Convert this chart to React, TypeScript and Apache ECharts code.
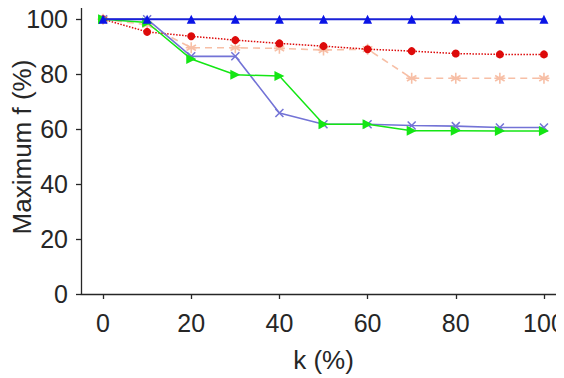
import React, { useEffect, useRef } from "react";
import * as echarts from "echarts";

const kValues = [0, 10, 20, 30, 40, 50, 60, 70, 80, 90, 100];
const blueTri = [100, 100, 100, 100, 100, 100, 100, 100, 100, 100, 100];
const redDot = [100, 95.4, 93.8, 92.4, 91.2, 90.2, 89.1, 88.4, 87.5, 87.2, 87.2];
const salmonStar = [100, 98, 89.6, 89.6, 89.4, 88.8, 89.1, 78.5, 78.5, 78.5, 78.5];
const purpleX = [100, 100, 86.5, 86.5, 65.9, 61.8, 61.8, 61.3, 61.1, 60.6, 60.6];
const greenTri = [100, 98.8, 85.5, 79.8, 79.3, 61.8, 61.8, 59.4, 59.4, 59.3, 59.3];
const xTicks = [0, 20, 40, 60, 80, 100];
const yTicks = [0, 20, 40, 60, 80, 100];

const pairs = (ys: number[]) => kValues.map((k, i) => [k, ys[i]]);

const FONT = "Liberation Sans";

export default function App() {
  const ref = useRef<HTMLDivElement>(null);
  useEffect(() => {
    if (!ref.current) return;
    const chart = echarts.init(ref.current, null, { renderer: "svg" });
    const axisColor = "#262626";
    chart.setOption({
      animation: false,
      grid: { left: 81, right: -2, top: 0, bottom: 84, outerBoundsMode: "none", containLabel: false },
      xAxis: {
        type: "value",
        min: -5,
        max: 105,
        interval: 5,
        name: "k (%)",
        nameLocation: "middle",
        nameGap: 53,
        nameMoveOverlap: false,
        nameTextStyle: { fontFamily: FONT, fontSize: 26, color: axisColor },
        axisLine: { show: true, onZero: false, lineStyle: { color: axisColor, width: 1.3 } },
        axisTick: {
          show: true,
          inside: false,
          length: 5,
          customValues: xTicks,
          lineStyle: { color: axisColor, width: 1.3 },
        },
        axisLabel: {
          customValues: xTicks,
          fontFamily: FONT,
          fontSize: 25,
          color: axisColor,
          margin: 16,
        },
        splitLine: { show: false },
      },
      yAxis: {
        type: "value",
        min: 0,
        max: 107,
        name: "Maximum f (%)",
        nameLocation: "middle",
        nameGap: 46,
        nameMoveOverlap: false,
        nameTextStyle: { fontFamily: FONT, fontSize: 26, color: axisColor },
        axisLine: { show: true, onZero: false, lineStyle: { color: axisColor, width: 1.3 } },
        axisTick: {
          show: true,
          length: 5,
          customValues: yTicks,
          lineStyle: { color: axisColor, width: 1.3 },
        },
        axisLabel: {
          customValues: yTicks,
          fontFamily: FONT,
          fontSize: 25,
          color: axisColor,
          margin: 13,
        },
        splitLine: { show: false },
      },
      series: [
        {
          type: "line",
          data: pairs(salmonStar),
          symbol: "path://M5,0L5,10M0.7,2.5L9.3,7.5M0.7,7.5L9.3,2.5M0,5L10,5",
          symbolSize: 11,
          itemStyle: { color: "rgba(0,0,0,0)", borderColor: "#f7bfa6", borderWidth: 1.6 },
          lineStyle: { color: "#f7bfa6", width: 1.6, type: [7, 5] },
          z: 2,
        },
        {
          type: "line",
          data: pairs(redDot),
          symbol: "circle",
          symbolSize: 8,
          itemStyle: { color: "#dd0a0a", borderWidth: 0 },
          lineStyle: { color: "#dd0a0a", width: 1.5, type: [1.5, 1.5] },
          z: 3,
        },
        {
          type: "line",
          data: pairs(purpleX),
          symbol: "path://M0,0L10,10M10,0L0,10",
          symbolSize: 8,
          itemStyle: { color: "rgba(0,0,0,0)", borderColor: "#7373d6", borderWidth: 1.5 },
          lineStyle: { color: "#7373d6", width: 1.6 },
          z: 4,
        },
        {
          type: "line",
          data: pairs(greenTri),
          symbol: "triangle",
          symbolRotate: -90,
          symbolSize: 10,
          itemStyle: { color: "#14e614", borderWidth: 0 },
          lineStyle: { color: "#14e614", width: 1.5 },
          z: 5,
        },
        {
          type: "line",
          data: pairs(blueTri),
          symbol: "triangle",
          symbolSize: 9,
          itemStyle: { color: "#0a14e6", borderWidth: 0 },
          lineStyle: { color: "#1a22d8", width: 1.8 },
          z: 6,
        },
      ],
    });
    return () => chart.dispose();
  }, []);
  return <div ref={ref} style={{ width: 564, height: 378, marginLeft: -8, marginTop: -8 }} />;
}
